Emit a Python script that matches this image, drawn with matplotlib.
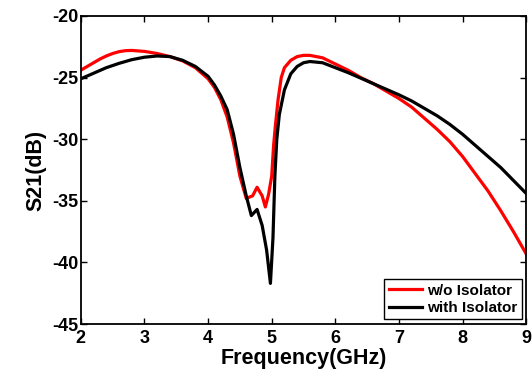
import numpy as np
import matplotlib
matplotlib.use("Agg")
import matplotlib.pyplot as plt

plt.rcParams['font.family'] = ['Liberation Sans', 'DejaVu Sans']
plt.rcParams['font.weight'] = 'bold'
plt.rcParams['axes.unicode_minus'] = False

# frequency (GHz) and S21 (dB), w/o isolator
f_wo = [2.0, 2.1, 2.2, 2.3, 2.4, 2.5, 2.6, 2.7, 2.8, 3.0, 3.2, 3.4, 3.6, 3.8, 4.0,
        4.1, 4.2, 4.3, 4.4, 4.5, 4.6, 4.7, 4.77, 4.85, 4.9, 4.95, 5.0, 5.03, 5.06,
        5.1, 5.15, 5.2, 5.3, 5.4, 5.5, 5.6, 5.8, 6.0, 6.2, 6.4, 6.6, 6.8, 7.0, 7.2,
        7.4, 7.6, 7.8, 8.0, 8.2, 8.4, 8.6, 8.8, 9.0]
s21_wo = [-24.4, -24.1, -23.8, -23.5, -23.25, -23.05, -22.9, -22.82, -22.8, -22.88,
          -23.05, -23.3, -23.65, -24.2, -25.1, -25.8, -26.8, -28.2, -30.3, -33.0,
          -34.8, -34.6, -33.9, -34.6, -35.5, -34.5, -33.0, -30.5, -28.8, -26.8,
          -25.0, -24.2, -23.6, -23.3, -23.2, -23.2, -23.4, -23.9, -24.4, -25.0,
          -25.5, -26.1, -26.7, -27.4, -28.3, -29.2, -30.2, -31.4, -32.8, -34.2,
          -35.8, -37.5, -39.3]

# with isolator
f_with = [2.0, 2.2, 2.4, 2.6, 2.8, 3.0, 3.2, 3.4, 3.6, 3.8, 4.0, 4.1, 4.2, 4.3, 4.4,
          4.5, 4.6, 4.68, 4.77, 4.85, 4.92, 4.98, 5.02, 5.05, 5.08, 5.12, 5.2, 5.3,
          5.4, 5.5, 5.6, 5.8, 6.0, 6.2, 6.4, 6.6, 6.8, 7.0, 7.2, 7.4, 7.6, 7.8, 8.0,
          8.2, 8.4, 8.6, 8.8, 9.0]
s21_with = [-25.1, -24.65, -24.2, -23.85, -23.55, -23.35, -23.25, -23.3, -23.6, -24.1,
            -24.9, -25.6, -26.5, -27.6, -29.6, -32.3, -34.6, -36.2, -35.7, -37.0,
            -39.0, -41.7, -38.0, -33.0, -30.0, -28.0, -26.0, -24.7, -24.1, -23.8,
            -23.7, -23.8, -24.2, -24.6, -25.05, -25.5, -25.95, -26.4, -26.9, -27.5,
            -28.1, -28.8, -29.6, -30.5, -31.4, -32.3, -33.35, -34.4]

fig = plt.figure(figsize=(5.32, 3.79), dpi=100)
ax = fig.add_axes([0.152, 0.145, 0.837, 0.813])

ax.plot(f_wo, s21_wo, color='#ff0000', lw=2.3, label='w/o Isolator')
ax.plot(f_with, s21_with, color='black', lw=2.3, label='with Isolator')

ax.set_xlim(2, 9)
ax.set_ylim(-45, -20)
ax.set_xticks(range(2, 10))
ax.set_yticks(range(-45, -19, 5))
ax.tick_params(direction='in', top=True, right=True, length=4, width=1,
               labelsize=13, pad=2)
ax.tick_params(axis='x', pad=4)
for s in ax.spines.values():
    s.set_linewidth(1.3)

ax.set_xlabel('Frequency(GHz)', fontsize=15.5, fontweight='bold', labelpad=1)
ax.set_ylabel('S21(dB)', fontsize=15.5, fontweight='bold', labelpad=4)

leg = ax.legend(loc='lower right', fontsize=11, fancybox=False, framealpha=1,
                edgecolor='black', handlelength=2.2, borderaxespad=0.3,
                handletextpad=0.3, borderpad=0.3, labelspacing=0.2)
leg.get_frame().set_linewidth(1.0)

fig.savefig('out.png', dpi=100)
